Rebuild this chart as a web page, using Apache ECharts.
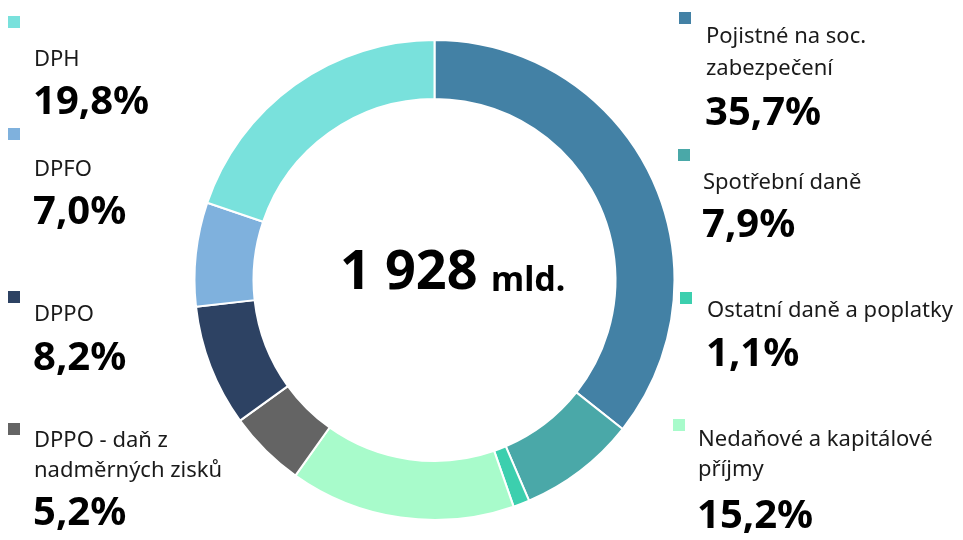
<!DOCTYPE html>
<html>
<head>
<meta charset="utf-8">
<script src="https://cdn.jsdelivr.net/npm/echarts@6/dist/echarts.min.js"></script>
<style>
  html, body { margin: 0; padding: 0; background: #fff; }
  #chart { width: 963px; height: 540px; }
</style>
</head>
<body>
<div id="chart"></div>
<script>
// data
var names = ['Pojistné na soc.\nzabezpečení', 'Spotřební daně', 'Ostatní daně a poplatky',
  'Nedaňové a kapitálové\npříjmy', 'DPPO - daň z\nnadměrných zisků', 'DPPO', 'DPFO', 'DPH'];
var shares = [35.7, 7.9, 1.1, 15.2, 5.2, 8.2, 7.0, 19.8];
var colors = ['#4381a5', '#4aa8a8', '#3ccfae', '#a8fbcb', '#646464', '#2d4263', '#7fb1dd', '#79e1dc'];
var total = 1928;
var unit = 'mld.';

// where each legend block sits: square x/y, text x, line middles, percent middle
var layout = [
  { sx: 679, sy: 12, tx: 706, lines: [37, 69], pct: 114 },
  { sx: 678, sy: 149, tx: 703, lines: [182.5], pct: 226 },
  { sx: 680, sy: 292, tx: 707, lines: [310.5], pct: 355 },
  { sx: 673, sy: 419, tx: 698, lines: [439.5, 469.5], pct: 517 },
  { sx: 8, sy: 423, tx: 34, lines: [440.5, 470.5], pct: 514 },
  { sx: 8, sy: 291, tx: 34, lines: [314.5], pct: 358.5 },
  { sx: 8, sy: 128, tx: 34, lines: [169.5], pct: 213 },
  { sx: 8, sy: 16, tx: 34, lines: [59.5], pct: 102.5 }
];

var font = '"Noto Sans", sans-serif';
var chart = echarts.init(document.getElementById('chart'));

var pieData = names.map(function (n, i) {
  return { name: n, value: shares[i], itemStyle: { color: colors[i] } };
});

var graphics = [];
names.forEach(function (n, i) {
  var l = layout[i];
  graphics.push({
    type: 'rect', shape: { x: l.sx, y: l.sy, width: 12, height: 12 },
    style: { fill: colors[i] }, silent: true
  });
  n.split('\n').forEach(function (line, k) {
    graphics.push({
      type: 'text', x: l.tx, y: l.lines[k], silent: true,
      style: { text: line, font: '22px ' + font, fill: '#1a1a1a', verticalAlign: 'middle' }
    });
  });
  graphics.push({
    type: 'text', x: l.tx - 1, y: l.pct, silent: true,
    style: { text: shares[i].toFixed(1).replace('.', ',') + '%', font: 'bold 40px ' + font,
      fill: '#000', verticalAlign: 'middle' }
  });
});

// center total
var totalText = String(total).replace(/\B(?=(\d{3})+(?!\d))/g, ' ');
graphics.push({
  type: 'text', x: 340, y: 274, silent: true,
  style: { text: totalText, font: 'bold 54px ' + font, fill: '#000', verticalAlign: 'middle' }
});
graphics.push({
  type: 'text', x: 491, y: 281, silent: true,
  style: { text: unit, font: 'bold 34px ' + font, fill: '#000', verticalAlign: 'middle' }
});

chart.setOption({
  animation: false,
  series: [{
    type: 'pie',
    radius: [181, 240],
    center: [434.5, 280],
    startAngle: 90,
    clockwise: true,
    silent: true,
    label: { show: false },
    labelLine: { show: false },
    itemStyle: { borderColor: '#fff', borderWidth: 2 },
    data: pieData
  }],
  graphic: graphics
});
</script>
</body>
</html>
